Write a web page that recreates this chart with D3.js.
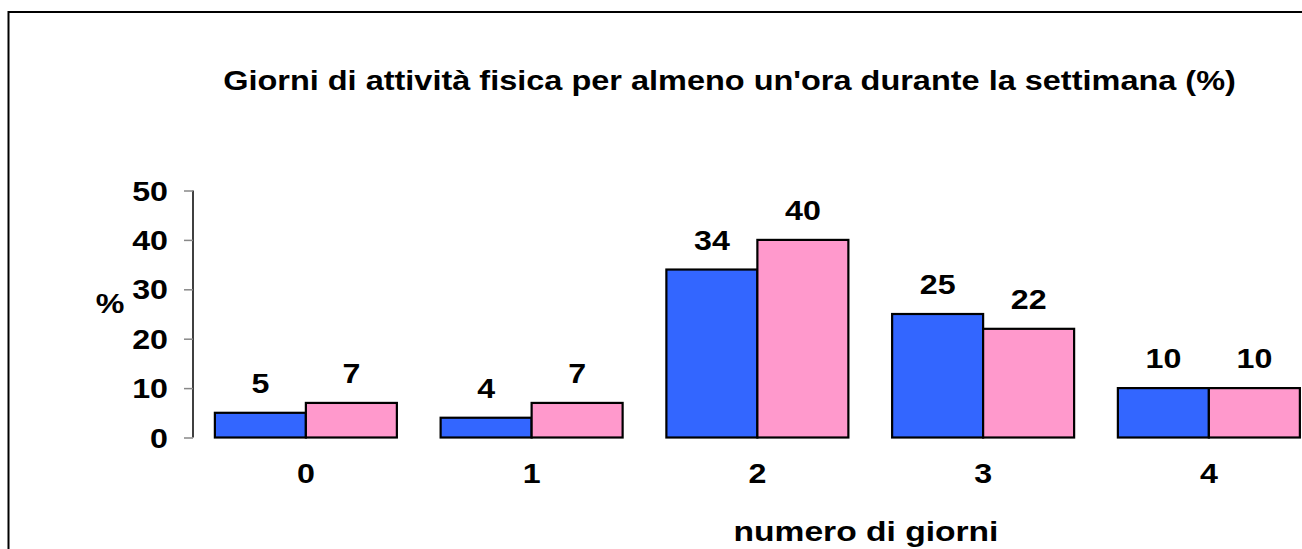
<!DOCTYPE html>
<html>
<head>
<meta charset="utf-8">
<script src="https://cdn.jsdelivr.net/npm/d3@7"></script>
<style>
  html, body { margin: 0; padding: 0; background: #fff; overflow: hidden; }
  svg { display: block; }
  text { font-family: "Liberation Sans", Arial, sans-serif; font-weight: bold; fill: #000; }
</style>
</head>
<body>
<svg id="chart" width="1302" height="549"></svg>
<script>
const categories = ["0", "1", "2", "3", "4"];
const seriesNames = ["A", "B"];
const seriesBlue = [5, 4, 34, 25, 10];
const seriesPink = [7, 7, 40, 22, 10];
const yTicks = [0, 10, 20, 30, 40, 50];
const titleText = "Giorni di attività fisica per almeno un'ora durante la settimana (%)";
const xTitle = "numero di giorni";
const yTitle = "%";
const colors = ["#3366FF", "#FF99CC"];

const svg = d3.select("#chart");
const W = 1302, H = 549;
const FS = 28;

svg.append("rect").attr("x", 0).attr("y", 0).attr("width", W).attr("height", H).attr("fill", "#fff");
// outer frame
svg.append("rect").attr("x", 8.5).attr("y", 12).attr("width", W + 20).attr("height", H + 20)
  .attr("fill", "none").attr("stroke", "#000").attr("stroke-width", 2);

function label(x, y, txt, anchor, size, sx) {
  return svg.append("g").attr("transform", `translate(${x},${y}) scale(${sx || 1.15},1)`)
    .append("text").attr("text-anchor", anchor || "middle")
    .style("font-size", (size || FS) + "px").text(txt);
}

const plotLeft = 193, step = 225.75;
const y = d3.scaleLinear().domain([0, 50]).range([437.5, 190.5]);
const x0 = d3.scaleBand().domain(categories)
  .range([plotLeft, plotLeft + step * categories.length])
  .paddingInner(43.75 / 225.75).paddingOuter(43.75 / 225.75 / 2);
const x1 = d3.scaleBand().domain(seriesNames).range([0, x0.bandwidth()]);

// title
label(729.5, 90, titleText, "middle", FS, 1.16);

// y axis
const yAxis = d3.axisLeft(y).tickValues(yTicks).tickSize(9).tickPadding(14).tickFormat(d3.format("d"));
const ga = svg.append("g").attr("transform", `translate(${plotLeft},0)`).call(yAxis);
ga.select(".domain").attr("stroke", "#000").attr("stroke-width", 1.5).attr("d", `M0,${y(50)}V${y(0)}`);
ga.selectAll(".tick line").attr("stroke", "#888").attr("stroke-width", 1.5);
ga.selectAll(".tick text").remove();
yTicks.forEach(t => {
  label(plotLeft - 25, y(t) + 10, String(t), "end", FS);
});

label(110, 313, yTitle, "middle", FS);

// bars
const data = categories.map((c, i) => ({ cat: c, vals: [seriesBlue[i], seriesPink[i]] }));
const groups = svg.append("g").selectAll("g").data(data).join("g")
  .attr("transform", d => `translate(${x0(d.cat)},0)`);
groups.selectAll("rect").data(d => d.vals.map((v, k) => ({ v, k })))
  .join("rect")
  .attr("x", d => x1(seriesNames[d.k]))
  .attr("y", d => y(d.v))
  .attr("width", x1.bandwidth())
  .attr("height", d => y(0) - y(d.v))
  .attr("fill", d => colors[d.k])
  .attr("stroke", "#000").attr("stroke-width", 2.2);

// value labels
data.forEach(d => {
  d.vals.forEach((v, k) => {
    label(x0(d.cat) + x1(seriesNames[k]) + x1.bandwidth() / 2, y(v) - 20, String(v), "middle", FS);
  });
});

// category labels
categories.forEach(c => {
  label(x0(c) + x0.bandwidth() / 2, 483, c, "middle", FS);
});

// x title
label(866, 541, xTitle, "middle", FS, 1.2);
</script>
</body>
</html>
